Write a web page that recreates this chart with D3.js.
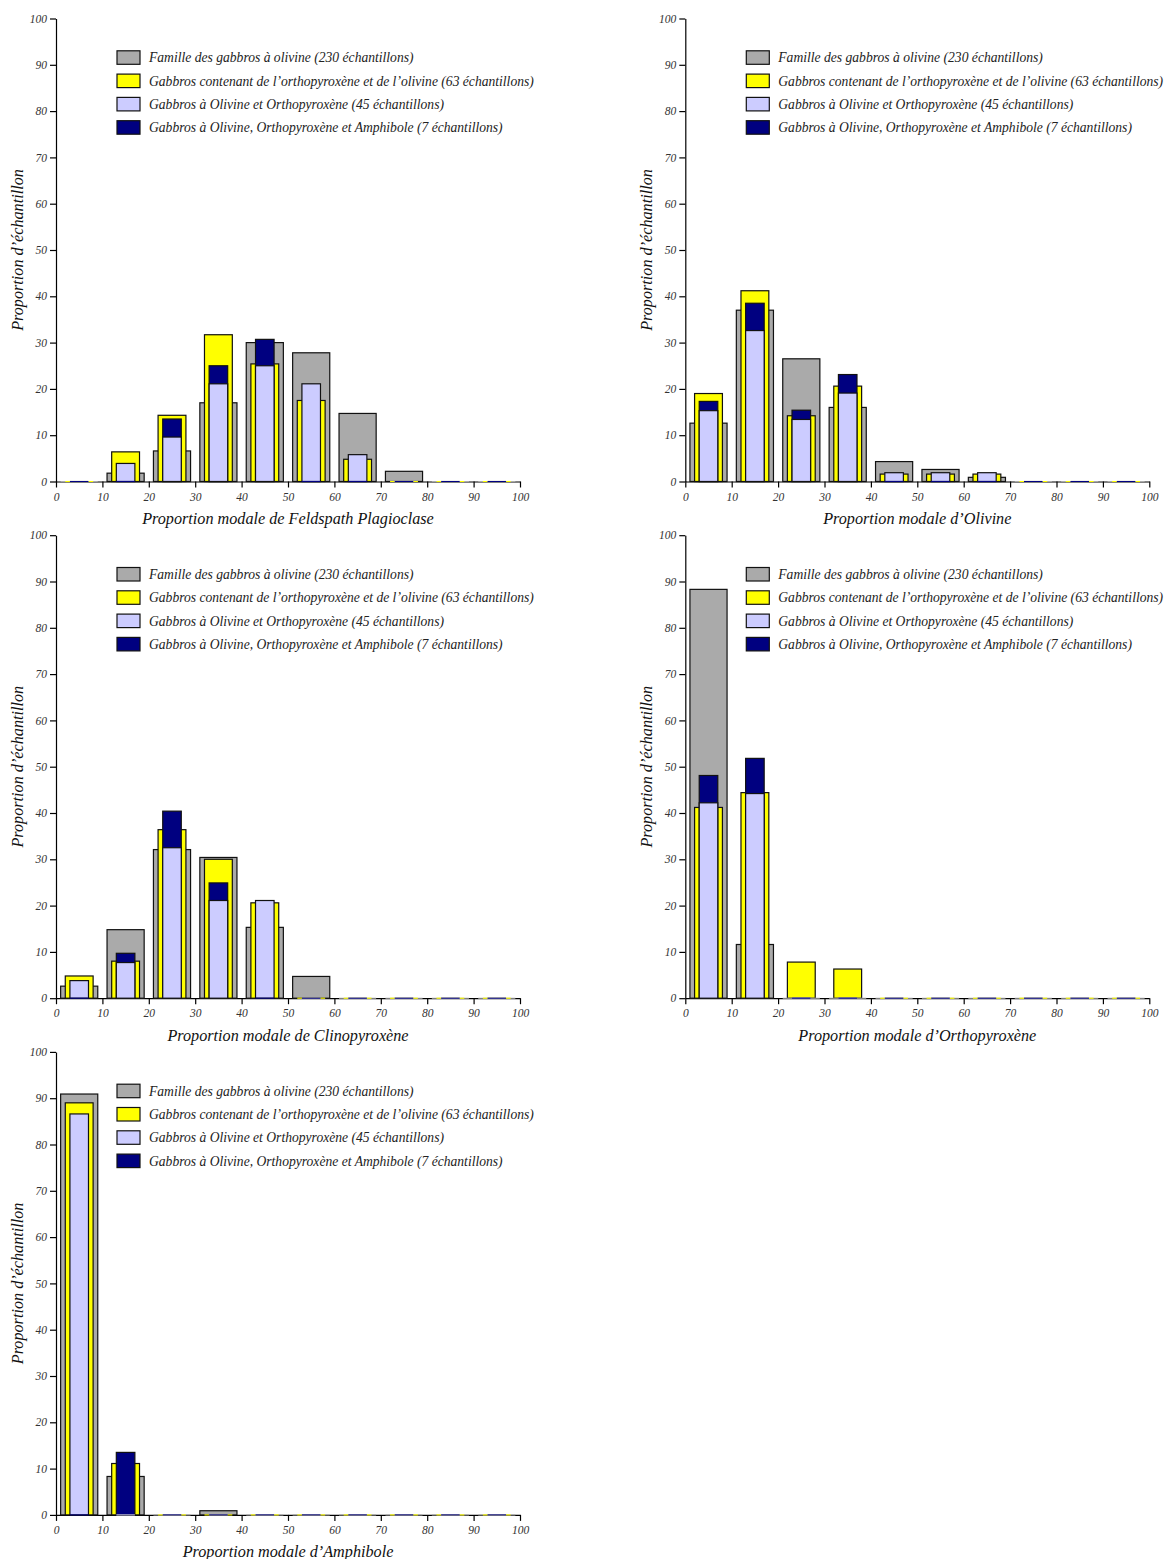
<!DOCTYPE html>
<html><head><meta charset="utf-8">
<script src="https://cdn.jsdelivr.net/npm/d3@7"></script>
<style>
body{margin:0;background:#fff}
svg{display:block}
text{font-family:"Liberation Serif","Times New Roman",serif;font-style:italic}
</style>
</head><body>
<svg id="chart" width="1167" height="1559"></svg>
<script>
// ---------- DATA ----------
const binStarts = [0, 10, 20, 30, 40, 50, 60, 70, 80, 90];
const xTickLabels = [0, 10, 20, 30, 40, 50, 60, 70, 80, 90, 100];
const yTickLabels = [0, 10, 20, 30, 40, 50, 60, 70, 80, 90, 100];
const seriesNames = [
  "Famille des gabbros à olivine (230 échantillons)",
  "Gabbros contenant de l’orthopyroxène et de l’olivine (63 échantillons)",
  "Gabbros à Olivine et Orthopyroxène (45 échantillons)",
  "Gabbros à Olivine, Orthopyroxène et Amphibole (7 échantillons)"
];
const yAxisTitle = "Proportion d’échantillon";
const panelTitles = [
  "Proportion modale de Feldspath Plagioclase",
  "Proportion modale d’Olivine",
  "Proportion modale de Clinopyroxène",
  "Proportion modale d’Orthopyroxène",
  "Proportion modale d’Amphibole"
];

// Feldspath Plagioclase
const plagFamille = [0, 1.8, 6.6, 17.0, 30.0, 27.8, 14.7, 2.2, 0, 0];
const plagOpxOl   = [0, 6.4, 14.3, 31.7, 25.4, 17.5, 4.8, 0, 0, 0];
const plagOlOpx   = [0, 3.9, 9.6, 21.1, 25.0, 21.1, 5.8, 0, 0, 0];
const plagOlOpxAm = [0, 0, 13.5, 25.0, 30.7, 0, 0, 0, 0, 0];
// Olivine
const olivFamille = [12.6, 37.0, 26.5, 16.0, 4.3, 2.6, 0.9, 0, 0, 0];
const olivOpxOl   = [19.0, 41.2, 14.2, 20.6, 1.6, 1.6, 1.6, 0, 0, 0];
const olivOlOpx   = [15.3, 32.6, 13.4, 19.1, 1.9, 1.9, 1.9, 0, 0, 0];
const olivOlOpxAm = [17.3, 38.5, 15.4, 23.1, 0, 0, 0, 0, 0, 0];
// Clinopyroxène
const cpxFamille  = [2.6, 14.8, 32.1, 30.4, 15.3, 4.7, 0, 0, 0, 0];
const cpxOpxOl    = [4.8, 8.0, 36.4, 30.0, 20.6, 0, 0, 0, 0, 0];
const cpxOlOpx    = [3.8, 7.7, 32.5, 21.1, 21.1, 0, 0, 0, 0, 0];
const cpxOlOpxAm  = [0, 9.7, 40.4, 24.9, 0, 0, 0, 0, 0, 0];
// Orthopyroxène
const opxFamille  = [88.3, 11.6, 0, 0, 0, 0, 0, 0, 0, 0];
const opxOpxOl    = [41.2, 44.4, 7.8, 6.3, 0, 0, 0, 0, 0, 0];
const opxOlOpx    = [42.2, 44.2, 0, 0, 0, 0, 0, 0, 0, 0];
const opxOlOpxAm  = [48.1, 51.8, 0, 0, 0, 0, 0, 0, 0, 0];
// Amphibole
const amphFamille = [90.9, 8.3, 0, 0.9, 0, 0, 0, 0, 0, 0];
const amphOpxOl   = [89.0, 11.1, 0, 0, 0, 0, 0, 0, 0, 0];
const amphOlOpx   = [86.6, 0, 0, 0, 0, 0, 0, 0, 0, 0];
const amphOlOpxAm = [0, 13.5, 0, 0, 0, 0, 0, 0, 0, 0];

// ---------- STYLE / LAYOUT ----------
const colors = ["#aaaaaa", "#ffff00", "#ccccff", "#000080"];
const insets = [1, 2, 3, 3];          // bar inset within each 10-unit bin
const drawOrder = [0, 1, 3, 2];       // gray, yellow, navy, lavender
const zeroOrder = [0, 1, 2, 3];
const plotW = 464, plotH = 463;
const colX = [56, 685.3];
const rowTop = [18.5, 535.2, 1051.9];

const panels = [
  {title: panelTitles[0], series: [plagFamille, plagOpxOl, plagOlOpx, plagOlOpxAm], col: 0, row: 0},
  {title: panelTitles[1], series: [olivFamille, olivOpxOl, olivOlOpx, olivOlOpxAm], col: 1, row: 0},
  {title: panelTitles[2], series: [cpxFamille, cpxOpxOl, cpxOlOpx, cpxOlOpxAm], col: 0, row: 1},
  {title: panelTitles[3], series: [opxFamille, opxOpxOl, opxOlOpx, opxOlOpxAm], col: 1, row: 1},
  {title: panelTitles[4], series: [amphFamille, amphOpxOl, amphOlOpx, amphOlOpxAm], col: 0, row: 2}
];

const svg = d3.select("#chart");
const x = d3.scaleLinear().domain([0, 100]).range([0, plotW]);
const y = d3.scaleLinear().domain([0, 100]).range([plotH, 0]);

panels.forEach(p => {
  const g = svg.append("g").attr("transform", `translate(${colX[p.col]},${rowTop[p.row]})`);

  // axes
  const ya = g.append("g").call(d3.axisLeft(y).tickValues(yTickLabels).tickSize(6).tickSizeOuter(0).tickPadding(3));
  const xa = g.append("g").attr("transform", `translate(0,${plotH})`)
    .call(d3.axisBottom(x).tickValues(xTickLabels).tickSize(6).tickSizeOuter(0).tickPadding(5));
  [ya, xa].forEach(a => {
    a.attr("font-size", null).attr("font-family", null);
    a.selectAll("path,line").attr("stroke", "#000").attr("stroke-width", 1.2);
    a.selectAll("text").attr("fill", "#333").style("font-size", "11.5px").style("font-family", '"Liberation Serif",serif').style("font-style", "italic");
  });

  // bars
  drawOrder.forEach(si => {
    const vals = p.series[si];
    g.append("g").selectAll("rect")
      .data(binStarts.map((b, i) => ({b, v: vals[i]})).filter(d => d.v > 0))
      .join("rect")
      .attr("x", d => x(d.b + insets[si]))
      .attr("width", d => x(d.b + 10 - insets[si]) - x(d.b + insets[si]))
      .attr("y", d => y(d.v))
      .attr("height", d => y(0) - y(d.v))
      .attr("fill", colors[si])
      .attr("stroke", "#111")
      .attr("stroke-width", 1.2);
  });
  // zero-height bars drawn as flat marks on the baseline
  zeroOrder.forEach(si => {
    const vals = p.series[si];
    g.append("g").selectAll("line")
      .data(binStarts.map((b, i) => ({b, v: vals[i]})).filter(d => d.v === 0))
      .join("line")
      .attr("x1", d => x(d.b + insets[si]))
      .attr("x2", d => x(d.b + 10 - insets[si]))
      .attr("y1", y(0)).attr("y2", y(0))
      .attr("stroke", colors[si])
      .attr("stroke-width", 1.1);
  });

  // axis titles
  g.append("text")
    .attr("x", plotW / 2).attr("y", plotH + 42.5)
    .attr("text-anchor", "middle")
    .attr("fill", "#111")
    .style("font-size", "16.2px")
    .text(p.title);
  g.append("text")
    .attr("transform", `translate(-33,${plotH / 2}) rotate(-90)`)
    .attr("text-anchor", "middle")
    .attr("fill", "#111")
    .style("font-size", "16.2px")
    .text(yAxisTitle);

  // legend
  const lg = g.append("g").attr("transform", "translate(61,32.3)");
  seriesNames.forEach((name, i) => {
    const row = lg.append("g").attr("transform", `translate(0,${i * 23.3})`);
    row.append("rect").attr("width", 23).attr("height", 13.5)
      .attr("fill", colors[i]).attr("stroke", "#111").attr("stroke-width", 1.2);
    row.append("text").attr("x", 32).attr("y", 11.5)
      .attr("fill", "#222")
      .style("font-size", "13.6px")
      .text(name);
  });
});
</script>
</body></html>
